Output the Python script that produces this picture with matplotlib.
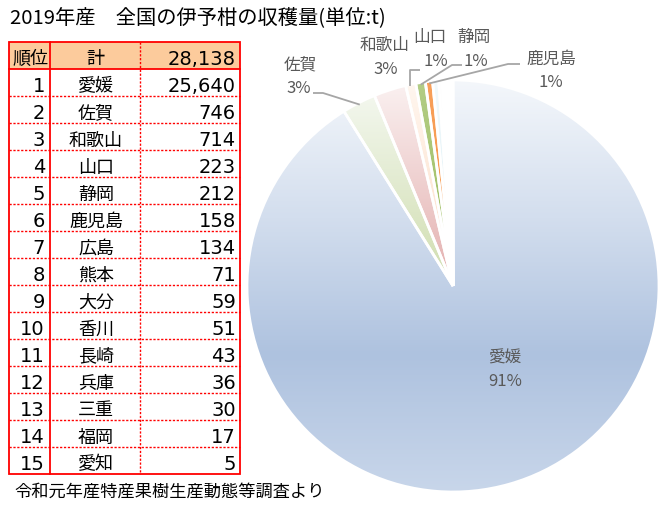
import numpy as np
import matplotlib
matplotlib.use("Agg")
import matplotlib.pyplot as plt
from matplotlib.colors import LinearSegmentedColormap

# ---------------- data ----------------
title = "2019年産　全国の伊予柑の収穫量(単位:t)"
footnote = "令和元年産特産果樹生産動態等調査より"
ranks = list(range(1, 16))
prefs = ["愛媛", "佐賀", "和歌山", "山口", "静岡", "鹿児島", "広島", "熊本",
         "大分", "香川", "長崎", "兵庫", "三重", "福岡", "愛知"]
values = [25640, 746, 714, 223, 212, 158, 134, 71, 59, 51, 43, 36, 30, 17, 5]
total = 28138
header = ["順位", "計"]

# gradient stops for each slice (top -> bottom)
slice_grads = [
    ["#F4F7FB", "#D3DEEE", "#AEC2DF", "#C8D6EA"],   # 愛媛
    ["#F3F7EE", "#CFDDAE"],                          # 佐賀
    ["#FAF0F0", "#E3AEAD"],                          # 和歌山
    ["#FFF6EF", "#FCDCC4"],                          # 山口
    ["#B3CD86", "#9BBB59"],                          # 静岡
    ["#F8A05A", "#F79646"],                          # 鹿児島
    ["#F3FAFC", "#D6ECF4"],
    ["#FFFFFF", "#F4F4F4"],
    ["#FFFFFF", "#F6F6F6"],
    ["#FFFFFF", "#F4F8FB"],
    ["#FFFFFF", "#FAFAFA"],
    ["#FFFFFF", "#FAFAFA"],
    ["#FFFFFF", "#FAFAFA"],
    ["#FFFFFF", "#FAFAFA"],
    ["#FFFFFF", "#FAFAFA"],
]

# ---------------- layout ----------------
W, H = 671, 509
CX, CY, R = 453, 286, 206
CJK = "Noto Sans CJK JP"
NUMF = ["DejaVu Sans", CJK]
RED = "#FF0000"
GRAY_TXT = "#595959"
LEAD = "#A6A6A6"

fig = plt.figure(figsize=(W / 100, H / 100), dpi=100)

# ---- pie ----
axp = fig.add_axes([(CX - R) / W, (H - CY - R) / H, 2 * R / W, 2 * R / H])
wedges, _ = axp.pie(values, startangle=90, counterclock=False, radius=1,
                    center=(0, 0),
                    wedgeprops=dict(facecolor="none", edgecolor="white",
                                    linewidth=2.0, zorder=3))
for w, stops in zip(wedges, slice_grads):
    ext = w.get_path().get_extents()
    cmap = LinearSegmentedColormap.from_list("g", stops)
    grad = np.linspace(0, 1, 256)[:, None]
    im = axp.imshow(grad, cmap=cmap, extent=(ext.x0, ext.x1, ext.y0, ext.y1),
                    origin="upper", aspect="auto", zorder=2,
                    interpolation="bilinear")
    im.set_clip_path(w)
axp.set_xlim(-1, 1)
axp.set_ylim(-1, 1)
axp.axis("off")

# ---- overlay in pixel coords (y down) ----
ax = fig.add_axes([0, 0, 1, 1])
ax.set_xlim(0, W)
ax.set_ylim(H, 0)
ax.axis("off")
ax.patch.set_visible(False)

ax.text(10, 18, title, fontsize=14.6, family=[CJK, "DejaVu Sans"],
        ha="left", va="center", color="black")
ax.text(14, 492, footnote, fontsize=12.4, family=[CJK, "DejaVu Sans"],
        ha="left", va="center", color="black")

# ---- table ----
x0, x1, x2, x3 = 9, 50, 140, 240
top, hdr_bot, rh = 42, 69, 27
nrows = len(prefs)
bot = hdr_bot + rh * nrows
ax.add_patch(plt.Rectangle((x0, top), x3 - x0, hdr_bot - top,
                           facecolor="#FCCB9C", edgecolor="none", zorder=1))
dot = (0, (1.6, 1.2))
for i in range(1, nrows):
    y = hdr_bot + rh * i
    ax.plot([x0, x3], [y, y], color=RED, lw=1.0, ls=dot, zorder=2)
ax.plot([x2, x2], [top, bot], color=RED, lw=1.0, ls=dot, zorder=2)
ax.plot([x0, x3], [hdr_bot, hdr_bot], color=RED, lw=1.3, zorder=3)
ax.plot([x1, x1], [top, bot], color=RED, lw=1.3, zorder=3)
ax.add_patch(plt.Rectangle((x0, top), x3 - x0, bot - top, facecolor="none",
                           edgecolor=RED, lw=1.3, zorder=3))

def cell_y(r):
    return top + r * rh + 17 if r == 0 else hdr_bot + (r - 1) * rh + 17.5

ax.text(x0 + 3, cell_y(0), header[0], fontsize=13, family=[CJK], ha="left",
        va="center")
ax.text((x1 + x2) / 2, cell_y(0), header[1], fontsize=13, family=[CJK],
        ha="center", va="center")
ax.text(x3 - 4, cell_y(0), f"{total:,}", fontsize=14, family=NUMF,
        ha="right", va="center")
for i, (rk, pf, v) in enumerate(zip(ranks, prefs, values)):
    y = cell_y(i + 1)
    ax.text(x1 - 5, y, str(rk), fontsize=14, family=NUMF, ha="right",
            va="center")
    ax.text((x1 + x2) / 2 + 1, y, pf, fontsize=13, family=[CJK],
            ha="center", va="center")
    ax.text(x3 - 4, y, f"{v:,}", fontsize=14, family=NUMF, ha="right",
            va="center")

# ---- pie labels ----
tot = sum(values)
pct = [f"{round(v / tot * 100)}%" for v in values]

def edge_pt(w, rf=1.0):
    mid = np.deg2rad((w.theta1 + w.theta2) / 2)
    return CX + R * rf * np.cos(mid), CY - R * rf * np.sin(mid)

lab_kw = dict(fontsize=12, family=[CJK, "DejaVu Sans"], color=GRAY_TXT,
              ha="center", va="center")
# 愛媛 (inside)
ax.text(505, 358, prefs[0], **lab_kw)
ax.text(505, 382, pct[0], **lab_kw)
# 佐賀
ax.text(300, 65, prefs[1], **lab_kw)
ax.text(299, 88, pct[1], **lab_kw)
# 和歌山
ax.text(384, 45, prefs[2], **lab_kw)
ax.text(386, 69, pct[2], **lab_kw)
# 山口 / 静岡
ax.text(430, 37, prefs[3], **lab_kw)
ax.text(436, 61, pct[3], **lab_kw)
ax.text(474, 37, prefs[4], **lab_kw)
ax.text(476, 61, pct[4], **lab_kw)
# 鹿児島
ax.text(551, 59, prefs[5], **lab_kw)
ax.text(551, 82, pct[5], **lab_kw)

# leader lines: (label-side anchor, elbow) -> slice edge
leaders = {1: [(313, 93), (323, 93)],
           3: [(420, 70), (410, 70)],
           4: [(462, 65), (452, 65)],
           5: [(520, 64), (508, 64)]}
for idx, pts in leaders.items():
    ex, ey = edge_pt(wedges[idx], 0.99)
    if idx == 3:
        ex = pts[1][0]
    xs = [p[0] for p in pts] + [ex]
    ys = [p[1] for p in pts] + [ey]
    ax.plot(xs, ys, color=LEAD, lw=1.3, zorder=5, solid_capstyle="butt")

fig.savefig("out.png", dpi=100)
